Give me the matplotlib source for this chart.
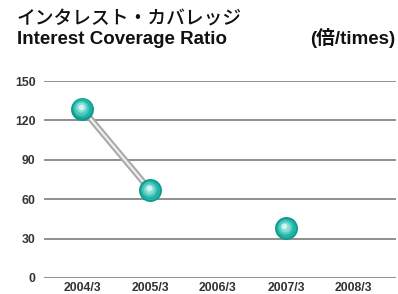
import matplotlib
matplotlib.use("Agg")
import matplotlib.pyplot as plt
import numpy as np

years = ["2004/3", "2005/3", "2006/3", "2007/3", "2008/3"]
ratio = [129, 67, None, 38, None]
yticks = [0, 30, 60, 90, 120, 150]

fig = plt.figure(figsize=(3.98, 2.94), dpi=100)
ax = fig.add_axes([44/398, 1-278/294, 352/398, 197/294])

x = np.arange(len(years))
y = np.array([np.nan if v is None else v for v in ratio], dtype=float)

ax.set_xlim(-0.56, 4.62)
ax.set_ylim(0, 150)
for t in yticks:
    ax.axhline(t, color="#8f8f8f", lw=1.4, zorder=1)

# rod connecting consecutive points
ax.plot(x, y, color="#a8a8a8", lw=4.5, solid_capstyle="butt", zorder=2)
ax.plot(x, y, color="#eeeeee", lw=1.6, solid_capstyle="butt", zorder=2)

# shaded balls
m = ~np.isnan(y)
layers = [(1.00, "#0e9a8e", 0, 0), (0.85, "#1fb3a6", -0.4, 0.4),
          (0.65, "#4cc8bc", -0.8, 0.9), (0.45, "#88ded5", -1.2, 1.4),
          (0.25, "#d0f4f0", -1.5, 1.8)]
for s, c, dx, dy in layers:
    ax.scatter(x[m] + dx/68, y[m] + dy*150/197, s=(22*s*0.75)**2, color=c,
               lw=0, zorder=3, clip_on=False)

tick_font = dict(fontsize=8.8, family="Liberation Sans", weight="bold", color="#333333")
ax.set_xticks(x)
ax.set_xticklabels(years, **tick_font)
ax.set_yticks(yticks)
ax.set_yticklabels([str(t) for t in yticks], **tick_font)
ax.tick_params(length=0, pad=6)
ax.tick_params(axis="x", pad=3)
for sp in ax.spines.values():
    sp.set_visible(False)

fig.text(17/398, 1-24/294, "インタレスト・カバレッジ", family=["Noto Sans CJK JP", "DejaVu Sans"],
         fontsize=13.5, weight="medium", va="baseline", color="#111111")
fig.text(17/398, 1-44/294, "Interest Coverage Ratio", family="Liberation Sans",
         fontsize=13.5, weight="bold", va="baseline", color="#111111")
fig.text(395/398, 1-44/294, "(倍/times)", family=["Liberation Sans", "Noto Sans CJK JP"],
         fontsize=13.5, weight="bold", va="baseline", ha="right", color="#111111")

fig.savefig("out.png", dpi=100)
